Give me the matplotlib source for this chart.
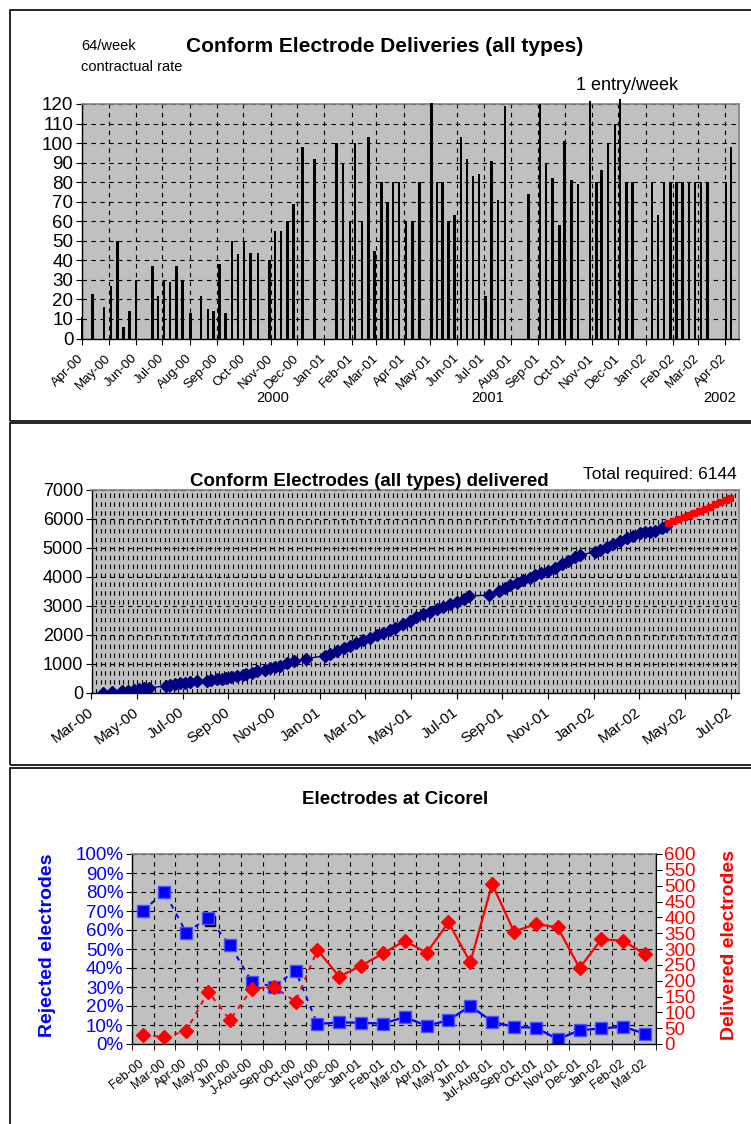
import numpy as np
import pandas as pd
import matplotlib
matplotlib.use('Agg')
import matplotlib.pyplot as plt
import matplotlib.dates as mdates
from matplotlib.patches import Rectangle
from matplotlib.ticker import FuncFormatter
from matplotlib.transforms import ScaledTranslation

plt.rcParams['font.family'] = ['Liberation Sans', 'DejaVu Sans']

# --- chart 1: weekly deliveries (one entry per week) ---
week_dates = [
    '2000-04-01', '2000-04-13', '2000-04-26', '2000-05-04', '2000-05-11', '2000-05-18',
    '2000-05-25', '2000-06-01', '2000-06-20', '2000-06-26', '2000-07-03', '2000-07-10',
    '2000-07-17', '2000-07-24', '2000-08-02', '2000-08-14', '2000-08-22', '2000-08-28',
    '2000-09-04', '2000-09-11', '2000-09-18', '2000-09-25', '2000-10-02', '2000-10-09',
    '2000-10-18', '2000-10-31', '2000-11-06', '2000-11-13', '2000-11-20', '2000-11-27',
    '2000-12-07', '2000-12-21', '2001-01-15', '2001-01-22', '2001-01-30', '2001-02-05',
    '2001-02-13', '2001-02-20', '2001-02-27', '2001-03-07', '2001-03-14', '2001-03-20',
    '2001-03-27', '2001-04-04', '2001-04-11', '2001-04-19', '2001-05-03', '2001-05-09',
    '2001-05-15', '2001-05-22', '2001-05-29', '2001-06-05', '2001-06-12', '2001-06-19',
    '2001-06-26', '2001-07-03', '2001-07-10', '2001-07-17', '2001-07-25', '2001-08-21',
    '2001-09-03', '2001-09-10', '2001-09-17', '2001-09-25', '2001-10-01', '2001-10-09',
    '2001-10-16', '2001-10-30', '2001-11-06', '2001-11-12', '2001-11-19', '2001-11-27',
    '2001-12-03', '2001-12-10', '2001-12-17', '2002-01-08', '2002-01-15', '2002-01-22',
    '2002-01-29', '2002-02-05', '2002-02-12', '2002-02-19', '2002-02-26', '2002-03-05',
    '2002-03-12', '2002-04-02', '2002-04-08',
]
week_values = [
    11, 23, 16, 27, 50, 6, 14, 30, 37, 22, 30, 29,
    37, 30, 13, 22, 15, 14, 38, 13, 50, 43, 50, 44,
    44, 40, 55, 55, 60, 69, 98, 92, 100, 90, 60, 100,
    60, 103, 45, 80, 70, 80, 80, 60, 60, 80, 120.5, 80,
    80, 60, 63, 103, 92, 83, 84, 22, 91, 71, 119, 74,
    120, 90, 82, 58, 101, 81, 79, 121.5, 80, 86, 100, 110,
    122.5, 80, 80, 80, 63, 80, 80, 80, 80, 80, 80, 80,
    80, 80, 98,
]

# --- chart 2: cumulative delivered ---
cum_dates = [
    '2000-03-31', '2000-04-12', '2000-04-25', '2000-05-03', '2000-05-11', '2000-05-18',
    '2000-05-24', '2000-05-31', '2000-06-22', '2000-06-28', '2000-07-04', '2000-07-11',
    '2000-07-18', '2000-07-25', '2000-08-03', '2000-08-16', '2000-08-22', '2000-08-29',
    '2000-09-05', '2000-09-11', '2000-09-18', '2000-09-25', '2000-10-03', '2000-10-08',
    '2000-10-15', '2000-10-22', '2000-11-02', '2000-11-08', '2000-11-15', '2000-11-22',
    '2000-12-01', '2000-12-11', '2000-12-27', '2001-01-21', '2001-01-28', '2001-02-06',
    '2001-02-15', '2001-02-23', '2001-03-04', '2001-03-13', '2001-03-22', '2001-03-31',
    '2001-04-09', '2001-04-18', '2001-04-24', '2001-05-05', '2001-05-14', '2001-05-23',
    '2001-06-01', '2001-06-10', '2001-06-19', '2001-06-28', '2001-07-07', '2001-07-16',
    '2001-07-25', '2001-08-01', '2001-08-28', '2001-09-11', '2001-09-18', '2001-09-25',
    '2001-10-04', '2001-10-13', '2001-10-22', '2001-10-28', '2001-11-06', '2001-11-15',
    '2001-11-24', '2001-12-03', '2001-12-12', '2001-12-21', '2001-12-28', '2002-01-17',
    '2002-01-23', '2002-02-01', '2002-02-10', '2002-02-19', '2002-02-28', '2002-03-09',
    '2002-03-18', '2002-03-24', '2002-03-31', '2002-04-07', '2002-04-16', '2002-04-22',
]
cum_values = [
    0, 12, 46, 69, 104, 127, 150, 173, 230, 253, 288, 322,
    345, 380, 403, 414, 437, 460, 483, 506, 541, 564, 610, 656,
    690, 737, 794, 840, 886, 932, 1013, 1093, 1174, 1278, 1347, 1439,
    1531, 1623, 1715, 1807, 1899, 1980, 2060, 2152, 2221, 2371, 2486, 2601,
    2716, 2797, 2877, 2970, 3062, 3142, 3223, 3338, 3372, 3522, 3603, 3706,
    3798, 3879, 3959, 4052, 4121, 4213, 4316, 4431, 4546, 4673, 4765, 4857,
    4926, 5030, 5133, 5237, 5329, 5421, 5502, 5559, 5548, 5594, 5674, 5755,
]
plan_dates = [
    '2002-04-24', '2002-05-01', '2002-05-08', '2002-05-15', '2002-05-22', '2002-05-29',
    '2002-06-05', '2002-06-12', '2002-06-19', '2002-06-26', '2002-07-03', '2002-07-10',
    '2002-07-16',
]
plan_values = [5850, 5920, 5990, 6060, 6140, 6210, 6280, 6350, 6420, 6500, 6570, 6640, 6710]

# --- chart 3: electrodes at Cicorel ---
months3 = ['Feb-00', 'Mar-00', 'Apr-00', 'May-00', 'Jun-00', 'J-Aou-00', 'Sep-00', 'Oct-00',
           'Nov-00', 'Dec-00', 'Jan-01', 'Feb-01', 'Mar-01', 'Apr-01', 'May-01', 'Jun-01',
           'Jul-Aug-01', 'Sep-01', 'Oct-01', 'Nov-01', 'Dec-01', 'Jan-02', 'Feb-02', 'Mar-02']
rejected_pct = [70, 80, 58.6, 66.5, 52, 32.8, 30.2, 38.6, 10.5, 11.4, 11.2, 10.7,
                14.2, 9.6, 12.5, 20, 11.8, 8.9, 8.6, 2.5, 7.2, 8.2, 9.1, 5.4]
delivered = [30, 21, 42, 165, 76, 174, 181, 134, 297, 213, 247, 286,
             326, 288, 384, 258, 505, 355, 379, 368, 240, 331, 326, 283]
extra_idx = [3]
extra_pct = [64.8]

W, H = 751, 1124
fig = plt.figure(figsize=(W / 100, H / 100), dpi=100)


def box(l, t, r, b):
    return [l / W, 1 - b / H, (r - l) / W, (b - t) / H]


def px(x, y):
    return x / W, 1 - y / H


GREY = '#c0c0c0'
BLUE = '#0000ff'
RED = '#ff0000'
grid_kw = dict(color='black', linestyle=(0, (4, 4)), linewidth=0.8)


def style_spines(ax):
    ax.set_facecolor(GREY)
    for s in ['top', 'right']:
        ax.spines[s].set_color('#808080')
        ax.spines[s].set_linewidth(1.2)
    for s in ['left', 'bottom']:
        ax.spines[s].set_color('black')
        ax.spines[s].set_linewidth(1.0)


# panel frames
for top, bot in [(10, 420.7), (423.3, 765), (768, 1140)]:
    fig.add_artist(Rectangle(px(10, bot), (770 - 10) / W, (bot - top) / H,
                             transform=fig.transFigure, fill=False, lw=1.2, ec='black'))

# ---------------- chart 1 ----------------
ax1 = fig.add_axes(box(81.7, 104, 739, 338.5))
style_spines(ax1)
d1 = mdates.date2num(pd.to_datetime(week_dates))
ax1.bar(d1, week_values, width=2.8, color='black', clip_on=False, zorder=3)
ax1.set_ylim(0, 120)
ax1.set_yticks(range(0, 121, 10))
ax1.set_xlim(mdates.date2num(pd.Timestamp('2000-03-31 12:00')),
             mdates.date2num(pd.Timestamp('2002-04-17')))
ax1.xaxis.set_major_locator(mdates.MonthLocator())
ax1.xaxis.set_major_formatter(mdates.DateFormatter('%b-%y'))
ax1.tick_params(axis='y', labelsize=13.5, length=4, pad=2)
ax1.tick_params(axis='x', labelsize=9.5, length=4, pad=9)
plt.setp(ax1.get_xticklabels(), rotation=45, ha='right', va='center', rotation_mode='anchor')
ax1.grid(True, **grid_kw)
ax1.set_axisbelow(True)

fig.text(*px(385, 46), 'Conform Electrode Deliveries (all types)', ha='center', va='center',
         fontsize=15, fontweight='bold')
fig.text(*px(81, 46), '64/week', ha='left', va='center', fontsize=10.5)
fig.text(*px(81, 67), 'contractual rate', ha='left', va='center', fontsize=10.5)
fig.text(*px(627, 86), '1 entry/week', ha='center', va='center', fontsize=13)
for label, xx in [('2000', 273), ('2001', 488), ('2002', 720)]:
    fig.text(*px(xx, 398), label, ha='center', va='center', fontsize=10.5)

# ---------------- chart 2 ----------------
ax2 = fig.add_axes(box(91.5, 490, 739, 692.7))
style_spines(ax2)
start2 = mdates.date2num(pd.Timestamp('2000-03-15'))
ax2.plot(mdates.date2num(pd.to_datetime(cum_dates)), cum_values, color='#000080', lw=1,
         marker='D', ms=6.5, mfc='#000080', mec='#000080', zorder=3)
ax2.plot(mdates.date2num(pd.to_datetime(plan_dates)), plan_values, color=RED, lw=1,
         marker='s', ms=5, mfc=RED, mec=RED, zorder=3)
ax2.set_xlim(start2, start2 + 865)
ax2.set_ylim(0, 7000)
ax2.set_yticks(range(0, 7001, 1000))
ax2.set_xticks(start2 + np.arange(0, 855, 61))
ax2.set_xticks(start2 + np.arange(0, 865, 6.1), minor=True)
ax2.xaxis.set_major_formatter(mdates.DateFormatter('%b-%y'))
ax2.tick_params(axis='y', labelsize=13, length=4, pad=2)
ax2.tick_params(axis='x', which='major', labelsize=11, length=4, pad=9)
ax2.tick_params(axis='x', which='minor', length=0)
plt.setp(ax2.get_xticklabels(), rotation=37, ha='right', va='center', rotation_mode='anchor')
ax2.grid(True, which='major', **grid_kw)
ax2.grid(True, which='minor', axis='x', **grid_kw)
ax2.set_axisbelow(True)

fig.text(*px(369, 482), 'Conform Electrodes (all types) delivered', ha='center', va='center',
         fontsize=13.5, fontweight='bold')
fig.text(*px(737, 474), 'Total required: 6144', ha='right', va='center', fontsize=12.5)

# ---------------- chart 3 ----------------
ax3 = fig.add_axes(box(131.7, 854, 656, 1044))
style_spines(ax3)
x3 = np.arange(len(months3))
ax3.plot(x3[:9], rejected_pct[:9], color=BLUE, lw=1.4, ls=(0, (2.5, 3)))
ax3.plot(x3[8:], rejected_pct[8:], color=BLUE, lw=1.6)
shift = ScaledTranslation(2 / 100, 0, fig.dpi_scale_trans)
ax3.plot(extra_idx, extra_pct, ls='none', marker='s', ms=7.5, color='black',
         transform=ax3.transData + shift)
ax3.plot(x3, rejected_pct, ls='none', marker='s', ms=8, mfc=BLUE, mec='#5050ff', mew=1)
ax3.set_xlim(-0.5, len(months3) - 0.5)
ax3.set_ylim(0, 100)
ax3.set_yticks(range(0, 101, 10))
ax3.yaxis.set_major_formatter(FuncFormatter(lambda v, p: f'{v:.0f}%'))
ax3.set_xticks(x3)
ax3.set_xticklabels(months3)
ax3.set_xticks(np.arange(-0.5, len(months3), 1), minor=True)
ax3.tick_params(axis='x', which='major', length=0, labelsize=9, pad=13)
ax3.tick_params(axis='x', which='minor', length=4)
ax3.tick_params(axis='y', labelsize=13.5, length=4, pad=2, labelcolor=BLUE)
plt.setp(ax3.get_xticklabels(), rotation=38, ha='right', va='center', rotation_mode='anchor')
ax3.grid(True, which='minor', axis='x', **grid_kw)
ax3.grid(True, which='major', axis='y', **grid_kw)
ax3.set_axisbelow(True)

ax3r = ax3.twinx()
ax3r.plot(x3[:9], delivered[:9], color=RED, lw=1.4, ls=(0, (2.5, 3)))
ax3r.plot(x3[8:], delivered[8:], color=RED, lw=1.6)
ax3r.plot(x3, delivered, ls='none', marker='D', ms=7, mfc=RED, mec=RED)
ax3r.set_ylim(0, 600)
ax3r.set_yticks(range(0, 601, 50))
ax3r.tick_params(axis='y', labelsize=13.5, length=4, pad=2, labelcolor=RED)
ax3r.spines['right'].set_color('black')
for s in ['top', 'left', 'bottom']:
    ax3r.spines[s].set_visible(False)

fig.text(*px(395, 800), 'Electrodes at Cicorel', ha='center', va='center',
         fontsize=13.5, fontweight='bold')
fig.text(*px(47, 945), 'Rejected electrodes', ha='center', va='center', rotation=90,
         fontsize=14, fontweight='bold', color=BLUE)
fig.text(*px(729, 945), 'Delivered electrodes', ha='center', va='center', rotation=90,
         fontsize=14, fontweight='bold', color=RED)

fig.savefig('out.png', dpi=100)
